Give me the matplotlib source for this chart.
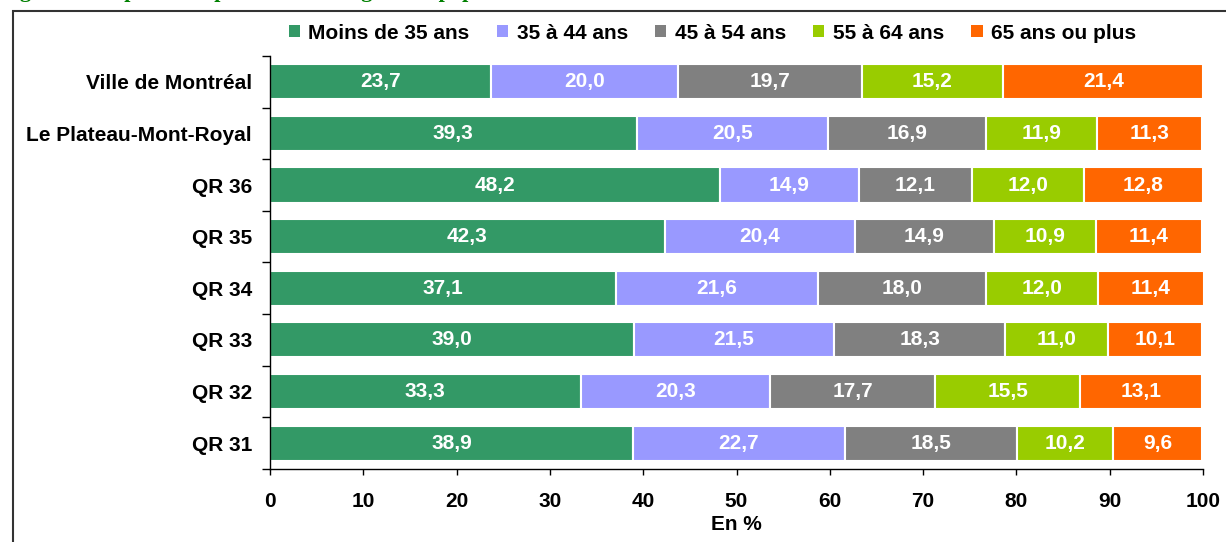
import matplotlib
matplotlib.use('Agg')
import matplotlib.pyplot as plt
import matplotlib.patches as patches
import numpy as np

plt.rcParams['font.family'] = ['Liberation Sans', 'DejaVu Sans']

categories = ['Ville de Montréal', 'Le Plateau-Mont-Royal', 'QR 36', 'QR 35',
              'QR 34', 'QR 33', 'QR 32', 'QR 31']
groups = ['Moins de 35 ans', '35 à 44 ans', '45 à 54 ans', '55 à 64 ans', '65 ans ou plus']
colors = ['#339966', '#9999FF', '#808080', '#99CC00', '#FF6600']

moins35 = [23.7, 39.3, 48.2, 42.3, 37.1, 39.0, 33.3, 38.9]
a35_44 = [20.0, 20.5, 14.9, 20.4, 21.6, 21.5, 20.3, 22.7]
a45_54 = [19.7, 16.9, 12.1, 14.9, 18.0, 18.3, 17.7, 18.5]
a55_64 = [15.2, 11.9, 12.0, 10.9, 12.0, 11.0, 15.5, 10.2]
a65plus = [21.4, 11.3, 12.8, 11.4, 11.4, 10.1, 13.1, 9.6]
series = [moins35, a35_44, a45_54, a55_64, a65plus]

fs = 15

fig = plt.figure(figsize=(12.26, 5.42), dpi=100)
ax = fig.add_axes([0.2202, 0.1347, 0.9813 - 0.2202, 0.8967 - 0.1347])

y = np.arange(len(categories))
left = np.zeros(len(categories))
for vals, col, name in zip(series, colors, groups):
    vals = np.array(vals)
    ax.barh(y, vals, left=left, height=0.68, color=col, edgecolor='white',
            linewidth=1.5, label=name)
    for yi, l, v in zip(y, left, vals):
        ax.text(l + v / 2, yi, f'{v:.1f}'.replace('.', ','), ha='center', va='center',
                color='white', fontsize=fs, fontweight='bold')
    left += vals

ax.set_xlim(0, 100)
ax.set_ylim(len(categories) - 0.5, -0.5)
ax.set_xticks(np.arange(0, 101, 10))
ax.set_yticks(y)
ax.set_yticklabels(categories)
ax.set_yticks(np.arange(-0.5, len(categories)), minor=True)
ax.tick_params(axis='y', which='major', length=0, pad=13, labelsize=fs)
ax.tick_params(axis='y', which='minor', length=6, width=1, direction='out')
ax.tick_params(axis='x', length=4.5, width=1, pad=12, labelsize=fs)
for lab in ax.get_xticklabels() + ax.get_yticklabels():
    lab.set_fontweight('bold')
ax.set_xlabel('En %', fontsize=fs, fontweight='bold', labelpad=3)

ax.spines['top'].set_visible(False)
ax.spines['right'].set_visible(False)
ax.spines['left'].set_linewidth(1)
ax.spines['bottom'].set_linewidth(1)

leg = fig.legend(loc='center', bbox_to_anchor=(0.581, 0.939), ncol=5, frameon=False,
                 handlelength=0.55, handleheight=0.55, handletextpad=0.4,
                 columnspacing=1.3, prop={'size': fs, 'weight': 'bold'})
for h in leg.legend_handles:
    h.set_edgecolor('none')

# cadre du graphique et titre coupé
fig.patches.append(patches.Rectangle((13 / 1226, -0.2), 1.2, 1.2 - 11 / 542,
                                     transform=fig.transFigure, fill=False,
                                     edgecolor='#333333', linewidth=1.5))
fig.text(0.0, 1.006, "Figure 4 : Répartition par tranche d'âge de la population",
         color='#008000', fontsize=16, fontweight='bold', family='Liberation Serif',
         va='baseline', ha='left')

fig.savefig('out.png', dpi=100)
